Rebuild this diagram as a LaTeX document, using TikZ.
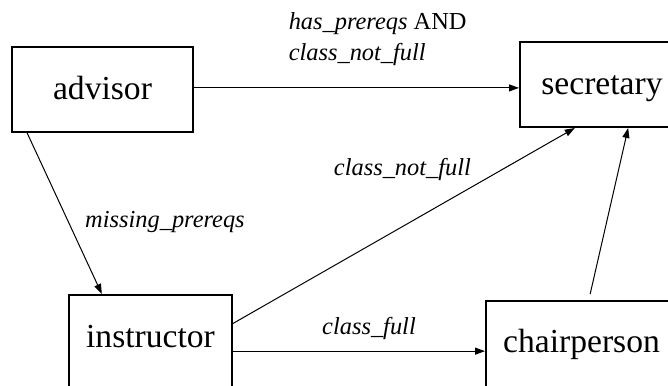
\documentclass[tikz,border=0pt]{standalone}
\usepackage{fontspec}
\setmainfont{Liberation Serif}[ItalicFont={Liberation Serif Italic}]
\usetikzlibrary{arrows.meta, positioning}

\begin{document}
\begin{tikzpicture}[x=0.5pt, y=-0.5pt,
  role/.style={draw, line width=1pt, rectangle, inner sep=0pt,
    text height=12.6pt, text depth=3.1pt,
    font=\fontsize{16.8}{20}\selectfont},
  flow/.style={-{Triangle[length=5pt,width=3.5pt]}, line width=0.5pt},
  cond/.style={inner sep=0pt, font=\fontsize{12.2}{15.5}\selectfont\itshape}]
  \useasboundingbox (0,0) rectangle (668,385);

  % 角色
  \node[role, minimum width=90.5pt, minimum height=42.5pt] (advisor) at (102.5,89.5) {advisor};
  \node[role, minimum width=82pt, minimum height=42.5pt, text depth=2.1pt] (secretary) at (602,84.5) {secretary};
  \node[role, minimum width=81.5pt, minimum height=46pt, text depth=6.6pt] (instructor) at (150.5,341) {instructor};
  \node[role, minimum width=95.5pt, minimum height=45pt, text depth=6.6pt] (chairperson) at (581.5,346) {chairperson};

  % 轉移
  \draw[flow] (advisor.1.6) -- (advisor.1.6 -| secretary.west)
    node[pos=0.29, anchor=south west, yshift=11pt, cond, align=left]
    {has\_prereqs {\upshape AND}\\ class\_not\_full};
  \draw[flow] (advisor.210.4) -- (instructor.136.5)
    node[pos=0.589, anchor=base west, xshift=6.8pt, cond] {missing\_prereqs};
  \draw[flow] (instructor.12.5) -- (secretary.238.5)
    node[pos=0.5, anchor=base, xshift=-0.75pt, yshift=25pt, cond] {class\_not\_full};
  \draw[flow] (instructor.-7.7) -- (instructor.-7.7 -| chairperson.west)
    node[midway, anchor=base, xshift=5pt, yshift=8.5pt, cond] {class\_full};
  \draw[flow, shorten <=3pt] (chairperson.81.8) -- (secretary.-59.5);
\end{tikzpicture}
\end{document}
